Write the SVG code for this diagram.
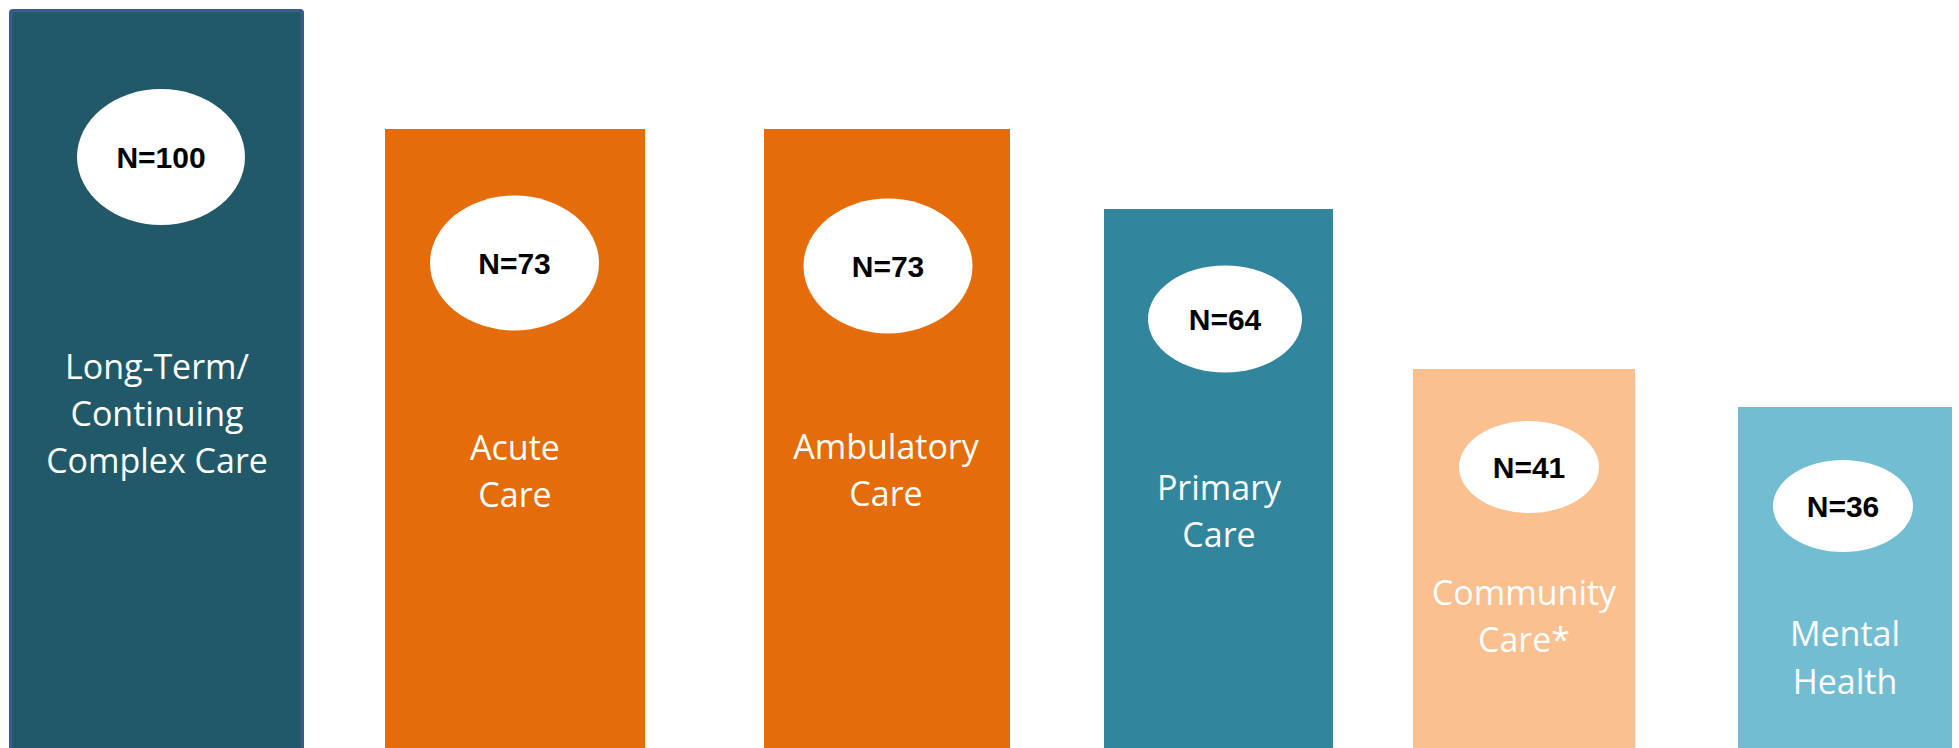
<svg xmlns="http://www.w3.org/2000/svg" width="1959" height="748" viewBox="0 0 1959 748">
<style>
.n{font-family:"Liberation Sans",Arial,sans-serif;font-weight:bold;font-size:30px;fill:#000;text-anchor:middle}
.l{font-family:"Open Sans","Liberation Sans",sans-serif;font-size:34px;fill:#fff;text-anchor:middle}
.e{fill:#fff}
</style>
<rect width="1959" height="748" fill="#fff"/>
<g id="connectors"></g>
<g id="ltc">
<rect x="10.75" y="10.75" width="291.5" height="760" rx="2" fill="#215968" stroke="#385D8A" stroke-width="3.5"/>
<ellipse class="e" cx="161" cy="157" rx="84" ry="68"/>
<text class="n" x="161" y="168">N=100</text>
<text class="l" x="157" y="379">Long-Term/</text>
<text class="l" x="157" y="426">Continuing</text>
<text class="l" x="157" y="473">Complex Care</text>
</g>
<g id="acute">
<rect x="385" y="129" width="260" height="620" fill="#E46C0A"/>
<ellipse class="e" cx="514.5" cy="263" rx="84.5" ry="67.5"/>
<text class="n" x="514.5" y="274">N=73</text>
<text class="l" x="515" y="460">Acute</text>
<text class="l" x="515" y="507">Care</text>
</g>
<g id="ambulatory">
<rect x="764" y="129" width="246" height="620" fill="#E46C0A"/>
<ellipse class="e" cx="888" cy="266" rx="84.5" ry="67.5"/>
<text class="n" x="888" y="277">N=73</text>
<text class="l" x="886" y="459">Ambulatory</text>
<text class="l" x="886" y="506">Care</text>
</g>
<g id="primary">
<rect x="1104" y="209" width="229" height="540" fill="#31859C"/>
<ellipse class="e" cx="1225" cy="319" rx="77" ry="53.5"/>
<text class="n" x="1225" y="330">N=64</text>
<text class="l" x="1219" y="500">Primary</text>
<text class="l" x="1219" y="547">Care</text>
</g>
<g id="community">
<rect x="1413" y="369" width="222" height="380" fill="#FAC090"/>
<ellipse class="e" cx="1529" cy="467" rx="70" ry="46"/>
<text class="n" x="1529" y="478">N=41</text>
<text class="l" x="1524" y="605">Community</text>
<text class="l" x="1524" y="652">Care*</text>
</g>
<g id="mental">
<rect x="1738" y="407" width="214" height="342" fill="#72BDD2"/>
<ellipse class="e" cx="1843" cy="506" rx="70" ry="46"/>
<text class="n" x="1843" y="517">N=36</text>
<text class="l" x="1845" y="646">Mental</text>
<text class="l" x="1845" y="694">Health</text>
</g>
</svg>
